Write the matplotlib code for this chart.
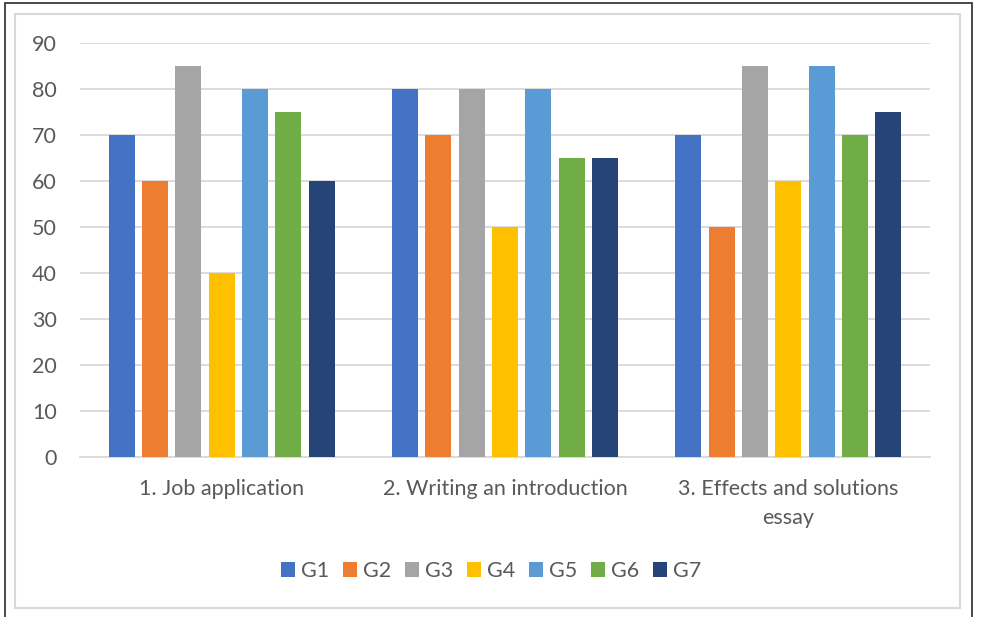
import matplotlib
matplotlib.use("Agg")
import matplotlib.pyplot as plt
from matplotlib.patches import Rectangle, Patch
import numpy as np

categories = ["1. Job application", "2. Writing an introduction", "3. Effects and solutions\nessay"]
groups = ["G1", "G2", "G3", "G4", "G5", "G6", "G7"]
g1 = [70, 80, 70]
g2 = [60, 70, 50]
g3 = [85, 80, 85]
g4 = [40, 50, 60]
g5 = [80, 80, 85]
g6 = [75, 65, 70]
g7 = [60, 65, 75]
series = [g1, g2, g3, g4, g5, g6, g7]
colors = ["#4472C4", "#ED7D31", "#A5A5A5", "#FFC000", "#5B9BD5", "#70AD47", "#264478"]
yticks = [0, 10, 20, 30, 40, 50, 60, 70, 80, 90]

W, H = 981, 617
plt.rcParams["font.family"] = ["Lato", "DejaVu Sans"]
text_color = "#595959"
fs = 15.5

fig = plt.figure(figsize=(W / 100, H / 100), dpi=100)
fig.patch.set_facecolor("white")

# outer frame and inner chart-area frame
fig.patches.append(Rectangle((5 / W, -0.01), 967 / W, 1 - 3 / H + 0.01, transform=fig.transFigure,
                             fill=False, edgecolor="#3a3a3a", linewidth=1.3, zorder=0))
fig.patches.append(Rectangle((15 / W, 1 - 608 / H), 945 / W, 594 / H, transform=fig.transFigure,
                             fill=False, edgecolor="#d9d9d9", linewidth=1.5, zorder=0))

left, right, top, bottom = 80, 930, 43.3, 457
ax = fig.add_axes([left / W, 1 - bottom / H, (right - left) / W, (bottom - top) / H])
ax.set_xlim(-0.5, 2.5)
ax.set_ylim(0, 90)

x = np.arange(len(categories))
step = 0.1176
width = 0.092
for i, (vals, c, name) in enumerate(zip(series, colors, groups)):
    ax.bar(x + (i - 3) * step, vals, width=width, color=c, label=name, zorder=3)

ax.set_yticks(yticks)
ax.yaxis.grid(True, color="#d9d9d9", linewidth=1.3, zorder=0)
ax.set_axisbelow(True)
for s in ["top", "right", "left"]:
    ax.spines[s].set_visible(False)
ax.spines["bottom"].set_color("#d9d9d9")
ax.spines["bottom"].set_linewidth(1.3)
ax.tick_params(axis="both", length=0, labelsize=fs, colors=text_color)
ax.tick_params(axis="y", pad=16.5)
ax.tick_params(axis="x", pad=15.5)
ax.set_xticks(x)
ax.set_xticklabels(categories)
for lab in ax.get_xticklabels():
    lab.set_linespacing(1.6)

handles = [Patch(facecolor=c, edgecolor="none") for c in colors]
leg = fig.legend(handles, groups, loc="center", bbox_to_anchor=(491 / W, 1 - 571 / H),
                 ncol=7, frameon=False, fontsize=fs, handlelength=0.65, handleheight=0.65,
                 handletextpad=0.3, columnspacing=0.62)
for t in leg.get_texts():
    t.set_color(text_color)

fig.savefig("out.png", dpi=100, facecolor="white")
